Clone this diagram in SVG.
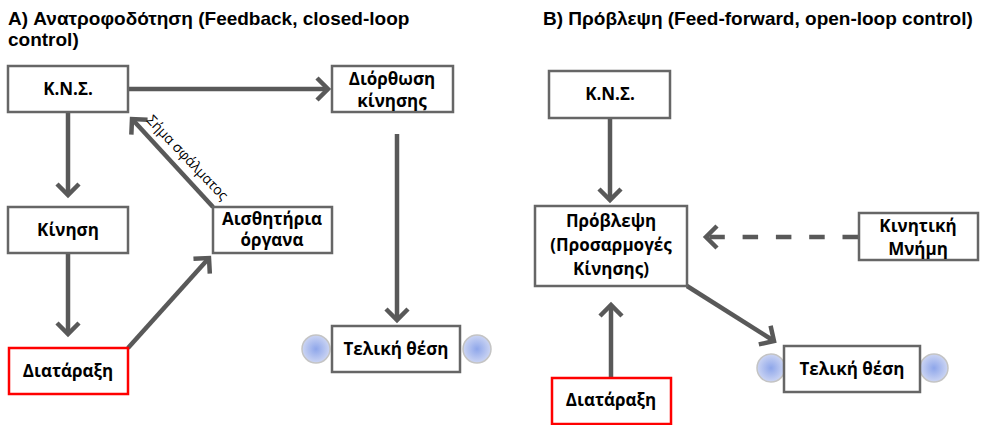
<svg xmlns="http://www.w3.org/2000/svg" width="981" height="425" viewBox="0 0 981 425">
  <style>
    .title { font-family: "Liberation Sans", Arial, sans-serif; font-weight: bold; font-size: 19px; fill: #000; }
    .box { fill: #fff; stroke: #666; stroke-width: 2.5; }
    .box-red { fill: #fff; stroke: #f00; stroke-width: 2.5; }
    .lbl { font-family: "Open Sans", "Noto Sans", sans-serif; font-weight: bold; font-size: 17px; fill: #000; text-anchor: middle; }
    .note { font-family: "Open Sans", "Noto Sans", sans-serif; font-size: 14px; fill: #000; text-anchor: middle; }
    .arrow { fill: none; stroke: #595959; stroke-width: 4.5; marker-end: url(#head); }
    .dash { stroke-dasharray: 15.5 17.8; }
    .dot { fill: url(#dotfill); stroke: #c4c4c4; stroke-width: 1.5; }
  </style>
  <defs>
    <marker id="head" markerUnits="userSpaceOnUse" viewBox="-16 -16 22 32" markerWidth="22" markerHeight="32" refX="0" refY="0" orient="auto">
      <path d="M-11,-11 L0,0 L-11,11" fill="none" stroke="#595959" stroke-width="4.5" stroke-linejoin="miter"/>
    </marker>
    <radialGradient id="dotfill" cx="0.5" cy="0.5" r="0.5">
      <stop offset="0" stop-color="#8ea6ea"/>
      <stop offset="1" stop-color="#ccd5f3"/>
    </radialGradient>
  </defs>

  <!-- Panel headings -->
  <text class="title" x="8" y="25">A) Ανατροφοδότηση (Feedback, closed-loop</text>
  <text class="title" x="8" y="46">control)</text>
  <text class="title" x="543" y="25">B) Πρόβλεψη (Feed-forward, open-loop control)</text>

  <!-- Connectors -->
  <g id="connectors">
    <!-- A: closed loop -->
    <line class="arrow" x1="128" y1="89" x2="328" y2="89"/>
    <line class="arrow" x1="68" y1="112" x2="68" y2="195"/>
    <line class="arrow" x1="68" y1="253" x2="68" y2="334"/>
    <line class="arrow" x1="128" y1="348" x2="209" y2="258"/>
    <line class="arrow" x1="213" y1="207" x2="132" y2="119"/>
    <line class="arrow" x1="397" y1="134" x2="397" y2="320"/>
    <text class="note" transform="translate(184,161) rotate(46.5)">Σήμα σφάλματος</text>
    <!-- B: open loop -->
    <line class="arrow" x1="610" y1="118" x2="610" y2="200"/>
    <line class="arrow dash" x1="858" y1="237" x2="706" y2="237"/>
    <line class="arrow" x1="611" y1="378" x2="611" y2="305"/>
    <line class="arrow" x1="687" y1="286" x2="774" y2="341"/>
  </g>

  <!-- A nodes -->
  <g id="a-kns">
    <rect class="box" x="8" y="66" width="120" height="46"/>
    <text class="lbl" x="68" y="95">Κ.Ν.Σ.</text>
  </g>
  <g id="a-correction">
    <rect class="box" x="332" y="66" width="121" height="46"/>
    <text class="lbl" x="392" y="85">Διόρθωση</text>
    <text class="lbl" x="392" y="107">κίνησης</text>
  </g>
  <g id="a-movement">
    <rect class="box" x="8" y="207" width="120" height="46"/>
    <text class="lbl" x="68" y="236">Κίνηση</text>
  </g>
  <g id="a-sensors">
    <rect class="box" x="213" y="207" width="119" height="46"/>
    <text class="lbl" x="272" y="225">Αισθητήρια</text>
    <text class="lbl" x="272" y="246">όργανα</text>
  </g>
  <g id="a-disturbance">
    <rect class="box-red" x="9" y="348" width="119" height="46"/>
    <text class="lbl" x="68" y="377">Διατάραξη</text>
  </g>
  <g id="a-final">
    <circle class="dot" cx="316" cy="349" r="14"/>
    <circle class="dot" cx="477" cy="349" r="14"/>
    <rect class="box" x="332" y="326" width="128" height="46"/>
    <text class="lbl" x="396" y="355">Τελική θέση</text>
  </g>

  <!-- B nodes -->
  <g id="b-kns">
    <rect class="box" x="549" y="71" width="121" height="47"/>
    <text class="lbl" x="610" y="100">Κ.Ν.Σ.</text>
  </g>
  <g id="b-prediction">
    <rect class="box" x="535" y="206" width="152" height="80"/>
    <text class="lbl" x="611" y="227">Πρόβλεψη</text>
    <text class="lbl" x="611" y="251">(Προσαρμογές</text>
    <text class="lbl" x="611" y="275">Κίνησης)</text>
  </g>
  <g id="b-memory">
    <rect class="box" x="859" y="213" width="119" height="47"/>
    <text class="lbl" x="918" y="232">Κινητική</text>
    <text class="lbl" x="918" y="255">Μνήμη</text>
  </g>
  <g id="b-disturbance">
    <rect class="box-red" x="552" y="378" width="119" height="46"/>
    <text class="lbl" x="611" y="406">Διατάραξη</text>
  </g>
  <g id="b-final">
    <circle class="dot" cx="771" cy="368" r="14"/>
    <circle class="dot" cx="934" cy="368" r="14"/>
    <rect class="box" x="784" y="346" width="136" height="46"/>
    <text class="lbl" x="852" y="375">Τελική θέση</text>
  </g>
</svg>
